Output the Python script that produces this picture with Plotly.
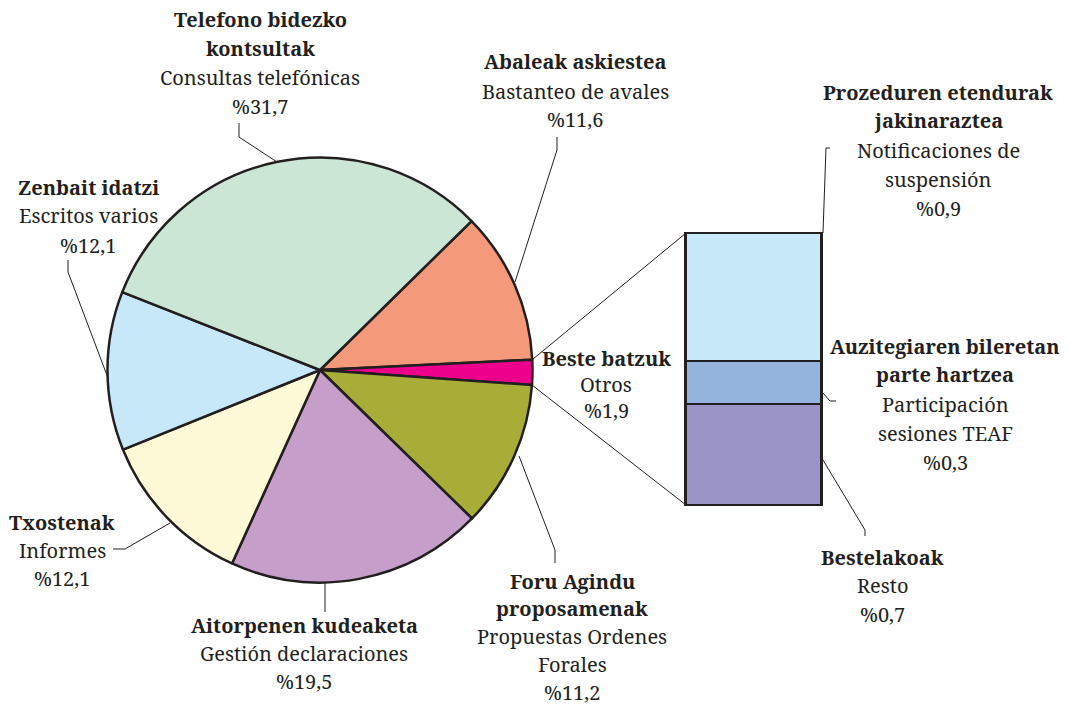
# -*- coding: utf-8 -*-
"""Pie of bar: BBT/TEAF jarduerak (pie + 'Beste batzuk' breakdown bar)"""
import math
import plotly.graph_objects as go

# --- data -------------------------------------------------------------
# pie, clockwise from the Telefono/Abaleak boundary
pie_titles = [["Abaleak askiestea"], ["Beste batzuk"], ["Foru Agindu", "proposamenak"],
              ["Aitorpenen kudeaketa"], ["Txostenak"], ["Zenbait idatzi"],
              ["Telefono bidezko", "kontsultak"]]
pie_subtitles = [["Bastanteo de avales"], ["Otros"], ["Propuestas Ordenes", "Forales"],
                 ["Gestión declaraciones"], ["Informes"], ["Escritos varios"],
                 ["Consultas telefónicas"]]
pie_values = [11.6, 1.9, 11.2, 19.5, 12.1, 12.1, 31.7]
pie_colors = ["#f4997a", "#ec008c", "#a8ad38", "#c59fc9", "#fef9d7", "#c7e8f8", "#cbe6d5"]

# bar ('Beste batzuk' breakdown), bottom to top
bar_titles = [["Bestelakoak"], ["Auzitegiaren bileretan", "parte hartzea"],
              ["Prozeduren etendurak", "jakinaraztea"]]
bar_subtitles = [["Resto"], ["Participación", "sesiones TEAF"], ["Notificaciones de", "suspensión"]]
bar_values = [0.7, 0.3, 0.9]
bar_colors = ["#9b95c7", "#94b4de", "#c8e9f8"]

# --- layout helpers (pixels of a 1074x709 page) ------------------------
W, H = 1074, 709
INK = "#231f20"
FONT = "Noto Serif"
FONT_SIZE = 20
PIE_CX, PIE_CY, PIE_R = 320, 370, 212.5
ROTATION = 45.5
BAR_X0, BAR_X1, BAR_TOP, BAR_BOT = 686, 822, 233, 505


def px(x):
    return x / W


def py(y):
    return 1 - y / H


fig = go.Figure()
fig.add_trace(go.Pie(
    values=pie_values, labels=[" ".join(t) for t in pie_titles],
    sort=False, direction="clockwise", rotation=ROTATION,
    marker=dict(colors=pie_colors, line=dict(color=INK, width=2.5)),
    textinfo="none", hoverinfo="label+value", showlegend=False,
    domain=dict(x=[px(PIE_CX - PIE_R), px(PIE_CX + PIE_R)],
                y=[py(PIE_CY + PIE_R), py(PIE_CY - PIE_R)]),
))

bar_total = sum(bar_values)
pad = 0.06
unit_px = (BAR_BOT - BAR_TOP) / bar_total
half_w = (BAR_X1 - BAR_X0) / 2
for t, v, c in zip(bar_titles, bar_values, bar_colors):
    fig.add_trace(go.Bar(
        x=[0], y=[v], width=1, name=" ".join(t),
        marker=dict(color=c, line=dict(color=INK, width=2.5)),
        showlegend=False, hovertemplate=f"{' '.join(t)}: %{{y}}<extra></extra>",
    ))

fig.update_layout(
    width=W, height=H, margin=dict(l=0, r=0, t=0, b=0),
    paper_bgcolor="white", plot_bgcolor="rgba(0,0,0,0)",
    barmode="stack", bargap=0,
    font=dict(family=FONT, color=INK, size=FONT_SIZE),
    xaxis=dict(domain=[px(BAR_X0 - half_w * 2 * pad), px(BAR_X1 + half_w * 2 * pad)],
               range=[-0.5 - pad, 0.5 + pad], visible=False, fixedrange=True),
    yaxis=dict(domain=[py(BAR_BOT + pad * unit_px), py(BAR_TOP - pad * unit_px)],
               range=[-pad, bar_total + pad], visible=False, fixedrange=True),
)

# --- connectors between the small slice and the bar --------------------
total = sum(pie_values)
start = ROTATION + 360 * sum(pie_values[:1]) / total
end = start + 360 * pie_values[1] / total


def rim(a_deg):
    a = math.radians(a_deg)
    return PIE_CX + PIE_R * math.sin(a), PIE_CY - PIE_R * math.cos(a)


shapes = []
for a, corner_y in [(start, BAR_TOP), (end, BAR_BOT)]:
    x0, y0 = rim(a)
    shapes.append(dict(type="line", xref="paper", yref="paper",
                       x0=px(x0), y0=py(y0), x1=px(BAR_X0), y1=py(corner_y),
                       line=dict(color=INK, width=1)))

# leader lines (pixel polylines)
leaders = [
    [(239, 123), (239, 137), (277, 162)],
    [(557, 137), (557, 150), (515, 282)],
    [(68, 260), (68, 272), (108, 378)],
    [(113, 549), (125, 549), (170, 523)],
    [(325, 583), (325, 612)],
    [(519, 456), (555, 550), (555, 563)],
    [(830, 148), (826, 148), (823, 233)],
    [(823, 393), (830, 401), (836, 401)],
    [(823, 460), (865, 530), (865, 536)],
]
for pts in leaders:
    path = "M " + " L ".join(f"{px(x):.5f},{py(y):.5f}" for x, y in pts)
    shapes.append(dict(type="path", xref="paper", yref="paper", path=path,
                       line=dict(color=INK, width=1)))
fig.update_layout(shapes=shapes)

# --- labels (centre x, first-line y, line step) ------------------------
pie_label_pos = [(575, 62, 29), (606, 358, 26), (572, 581, 27.8), (304, 625, 28),
                 (62, 522, 28), (88, 187, 29), (260, 20, 28.7)]
bar_label_pos = [(882, 557, 28.5), (945, 346, 29), (938, 92, 29)]


def fmt(v):
    return "%" + f"{v:.1f}".replace(".", ",")


annotations = []
for titles, subs, vals, pos in [(pie_titles, pie_subtitles, pie_values, pie_label_pos),
                                (bar_titles, bar_subtitles, bar_values, bar_label_pos)]:
    for t, s, v, (x, y0, step) in zip(titles, subs, vals, pos):
        lines = [f"<b>{p}</b>" for p in t] + s + [fmt(v)]
        for i, line in enumerate(lines):
            annotations.append(dict(
                x=px(x), y=py(y0 + i * step), xref="paper", yref="paper", showarrow=False,
                xanchor="center", yanchor="middle", text=line,
                font=dict(family=FONT, size=FONT_SIZE, color=INK),
            ))
fig.update_layout(annotations=annotations)

fig.write_html("out.html", config={"displayModeBar": False},
               post_script="document.body.style.margin = '0';")
